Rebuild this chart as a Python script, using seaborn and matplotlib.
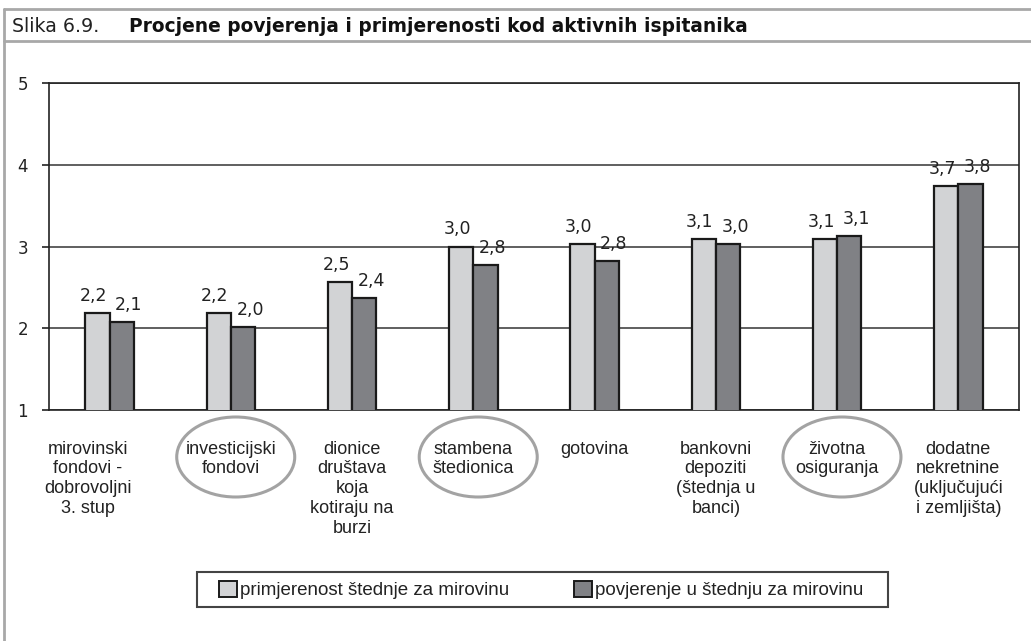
import numpy as np
import pandas as pd
import matplotlib.pyplot as plt
import seaborn as sns
from matplotlib.lines import Line2D
from matplotlib.patches import Ellipse, Rectangle
from matplotlib.transforms import blended_transform_factory, ScaledTranslation

# ---- data ----
categories = [
    "mirovinski\nfondovi -\ndobrovoljni\n3. stup",
    "investicijski\nfondovi",
    "dionice\ndruštava\nkoja\nkotiraju na\nburzi",
    "stambena\nštedionica",
    "gotovina",
    "bankovni\ndepoziti\n(štednja u\nbanci)",
    "životna\nosiguranja",
    "dodatne\nnekretnine\n(uključujući\ni zemljišta)",
]
series_names = ["primjerenost štednje za mirovinu", "povjerenje u štednju za mirovinu"]
primjerenost = [2.19, 2.19, 2.56, 3.00, 3.03, 3.09, 3.09, 3.74]
povjerenje = [2.08, 2.02, 2.37, 2.77, 2.82, 3.03, 3.13, 3.76]
primjerenost_labels = ["2,2", "2,2", "2,5", "3,0", "3,0", "3,1", "3,1", "3,7"]
povjerenje_labels = ["2,1", "2,0", "2,4", "2,8", "2,8", "3,0", "3,1", "3,8"]
circled = [1, 3, 6]  # categories highlighted with an ellipse
y_ticks = [1, 2, 3, 4, 5]

df = pd.DataFrame({
    "kategorija": categories * 2,
    "serija": [series_names[0]] * len(categories) + [series_names[1]] * len(categories),
    "ocjena": primjerenost + povjerenje,
})

LIGHT = "#d2d3d5"
DARK = "#808185"
TEXT_FONT = "Liberation Sans"
NUM_FONT = "DejaVu Sans"

sns.set_style("white")
plt.rcParams["font.family"] = [TEXT_FONT, "DejaVu Sans"]

W, H = 1031, 641
fig = plt.figure(figsize=(W / 100, H / 100), dpi=100)
ax = fig.add_axes([49 / W, 1 - 410 / H, 970 / W, 327 / H])

sns.barplot(data=df, x="kategorija", y="ocjena", hue="serija", order=categories,
            hue_order=series_names, palette=[LIGHT, DARK], saturation=1,
            width=0.4, edgecolor="#1a1a1a", linewidth=1.6, ax=ax, zorder=3)

ax.set_ylim(1, 5)
ax.set_xlim(-0.5, len(categories) - 0.5)
ax.set_yticks(y_ticks)
ax.set_yticklabels([str(t) for t in y_ticks], fontfamily=NUM_FONT, fontsize=12, color="#222222")
ax.set_xlabel("")
ax.set_ylabel("")
ax.yaxis.grid(True, color="#444444", linewidth=1.2, zorder=0)
ax.set_axisbelow(True)
for s in ax.spines.values():
    s.set_visible(True)
    s.set_color("#222222")
    s.set_linewidth(1.2)
ax.tick_params(axis="y", left=True, length=5, width=1.2, color="#222222", pad=10)
ax.tick_params(axis="x", bottom=False, length=0, pad=22)
for t in ax.get_xticklabels():
    t.set_fontsize(13)
    t.set_color("#222222")
    t.set_linespacing(1.22)
    t.set_verticalalignment("top")
# first label sits a bit to the left in the original
first = ax.get_xticklabels()[0]
first.set_transform(first.get_transform() + ScaledTranslation(-0.22, 0, fig.dpi_scale_trans))

# value labels
for cont, labs, dx in zip(ax.containers, [primjerenost_labels, povjerenje_labels], [-4, 7]):
    for bar, lab in zip(cont, labs):
        ax.annotate(lab, (bar.get_x() + bar.get_width() / 2, bar.get_height()),
                    xytext=(dx, 8), textcoords="offset pixels", ha="center", va="bottom",
                    fontfamily=NUM_FONT, fontsize=12.5, color="#222222")

# grey ellipses round highlighted categories
trans = blended_transform_factory(ax.transData, ax.transAxes)
for i in circled:
    ax.add_patch(Ellipse((i + 0.04, -47 / 327), width=118 / 121.25, height=80 / 327,
                         transform=trans, fill=False, edgecolor="#a3a3a3", linewidth=2.2,
                         clip_on=False))

# legend (frame drawn separately to get the wide side padding of the original)
handles, labels = ax.get_legend_handles_labels()
for h in handles:
    h.set_edgecolor("#1a1a1a")
    h.set_linewidth(1.4)
leg = ax.legend(handles, labels, loc="center", bbox_to_anchor=(541 / W, 1 - 590 / H),
                bbox_transform=fig.transFigure, ncol=2, frameon=False,
                fontsize=13.5, handlelength=0.95, handleheight=0.95, handletextpad=0.15,
                columnspacing=3.5, borderpad=0.3, borderaxespad=0)
for t in leg.get_texts():
    t.set_color("#222222")
fig.add_artist(Rectangle((197 / W, 1 - 607 / H), 691 / W, 35 / H, transform=fig.transFigure,
                         fill=False, edgecolor="#444444", linewidth=1.5))

# title band
band = dict(transform=fig.transFigure, color="#a8a8a8", lw=2)
fig.add_artist(Line2D([4 / W, 1], [1 - 9 / H] * 2, **band))
fig.add_artist(Line2D([4 / W, 1], [1 - 41 / H] * 2, **band))
fig.add_artist(Line2D([4 / W] * 2, [0, 1 - 9 / H], **band))

t1 = fig.text(12 / W, 1 - 26 / H, "Slika 6.9.", fontsize=13.7, fontfamily=NUM_FONT,
              va="center", ha="left", color="#222222")
fig.canvas.draw()
bb = t1.get_window_extent()
fig.text((bb.x1 + 30) / W, 1 - 26 / H, "Procjene povjerenja i primjerenosti kod aktivnih ispitanika",
         fontsize=13.4, fontweight="bold", fontfamily=NUM_FONT, va="center", ha="left", color="#111111")

fig.savefig("out.png", dpi=100)
